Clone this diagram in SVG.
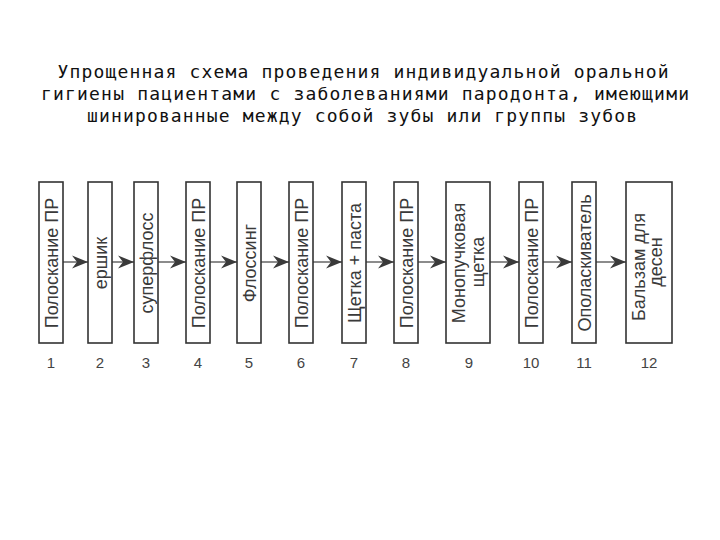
<svg xmlns="http://www.w3.org/2000/svg" width="720" height="540" viewBox="0 0 720 540">
<style>
.title{font-family:"DejaVu Sans Mono","Liberation Mono",monospace;font-size:18px;fill:#111;text-anchor:middle}
.box{fill:#fff;stroke:#333;stroke-width:1.6}
.lbl{font-family:"Liberation Sans",Arial,sans-serif;font-size:18px;fill:#3a3a3a;text-anchor:middle}
.num{font-family:"Liberation Sans",Arial,sans-serif;font-size:15px;fill:#444;text-anchor:middle}
.conn{stroke:#666;stroke-width:1.5;fill:none;marker-end:url(#ah)}
</style>
<defs>
<marker id="ah" markerUnits="userSpaceOnUse" markerWidth="18" markerHeight="14" refX="16" refY="7" orient="auto">
<path d="M0,0.5 L16,7 L0,13.5 L5,7 Z" fill="#3a3a3a"/>
</marker>
</defs>
<rect width="720" height="540" fill="#fff"/>
<g id="title">
<text class="title" x="363" y="78" textLength="611" lengthAdjust="spacing">Упрощенная схема проведения индивидуальной оральной</text>
<text class="title" x="365" y="100" textLength="648" lengthAdjust="spacing">гигиены пациентами с заболеваниями пародонта, имеющими</text>
<text class="title" x="362" y="122" textLength="550" lengthAdjust="spacing">шинированные между собой зубы или группы зубов</text>
</g>
<g id="connectors">
<line class="conn" x1="63" y1="262" x2="88" y2="262"/>
<line class="conn" x1="112" y1="262" x2="134" y2="262"/>
<line class="conn" x1="158" y1="262" x2="186" y2="262"/>
<line class="conn" x1="210" y1="262" x2="237" y2="262"/>
<line class="conn" x1="261" y1="262" x2="289" y2="262"/>
<line class="conn" x1="313" y1="262" x2="342" y2="262"/>
<line class="conn" x1="366" y1="262" x2="394" y2="262"/>
<line class="conn" x1="418" y1="262" x2="446" y2="262"/>
<line class="conn" x1="490" y1="262" x2="519" y2="262"/>
<line class="conn" x1="543" y1="262" x2="572" y2="262"/>
<line class="conn" x1="596" y1="262" x2="626" y2="262"/>
</g>
<g id="n1"><rect class="box" x="39" y="182" width="24" height="161"/><text class="lbl" transform="translate(57.5,263) rotate(-90)">Полоскание ПР</text><text class="num" x="51" y="368">1</text></g>
<g id="n2"><rect class="box" x="88" y="182" width="24" height="161"/><text class="lbl" transform="translate(106.5,263) rotate(-90)">ершик</text><text class="num" x="100" y="368">2</text></g>
<g id="n3"><rect class="box" x="134" y="182" width="24" height="161"/><text class="lbl" transform="translate(152.5,263) rotate(-90)">суперфлосс</text><text class="num" x="146" y="368">3</text></g>
<g id="n4"><rect class="box" x="186" y="182" width="24" height="161"/><text class="lbl" transform="translate(204.5,263) rotate(-90)">Полоскание ПР</text><text class="num" x="198" y="368">4</text></g>
<g id="n5"><rect class="box" x="237" y="182" width="24" height="161"/><text class="lbl" transform="translate(255.5,263) rotate(-90)">Флоссинг</text><text class="num" x="249" y="368">5</text></g>
<g id="n6"><rect class="box" x="289" y="182" width="24" height="161"/><text class="lbl" transform="translate(307.5,263) rotate(-90)">Полоскание ПР</text><text class="num" x="301" y="368">6</text></g>
<g id="n7"><rect class="box" x="342" y="182" width="24" height="161"/><text class="lbl" transform="translate(360.5,263) rotate(-90)">Щетка + паста</text><text class="num" x="354" y="368">7</text></g>
<g id="n8"><rect class="box" x="394" y="182" width="24" height="161"/><text class="lbl" transform="translate(412.5,263) rotate(-90)">Полоскание ПР</text><text class="num" x="406" y="368">8</text></g>
<g id="n9"><rect class="box" x="446" y="182" width="44" height="161"/><text class="lbl" transform="translate(465,263) rotate(-90)">Монопучковая</text><text class="lbl" transform="translate(484,262) rotate(-90)">щетка</text><text class="num" x="469" y="368">9</text></g>
<g id="n10"><rect class="box" x="519" y="182" width="24" height="161"/><text class="lbl" transform="translate(537.5,263) rotate(-90)">Полоскание ПР</text><text class="num" x="531" y="368">10</text></g>
<g id="n11"><rect class="box" x="572" y="182" width="24" height="161"/><text class="lbl" transform="translate(590.5,263) rotate(-90)">Ополаскиватель</text><text class="num" x="584" y="368">11</text></g>
<g id="n12"><rect class="box" x="626" y="182" width="46" height="161"/><text class="lbl" transform="translate(645,267) rotate(-90)">Бальзам для</text><text class="lbl" transform="translate(662,262) rotate(-90)">десен</text><text class="num" x="649" y="368">12</text></g>
</svg>
